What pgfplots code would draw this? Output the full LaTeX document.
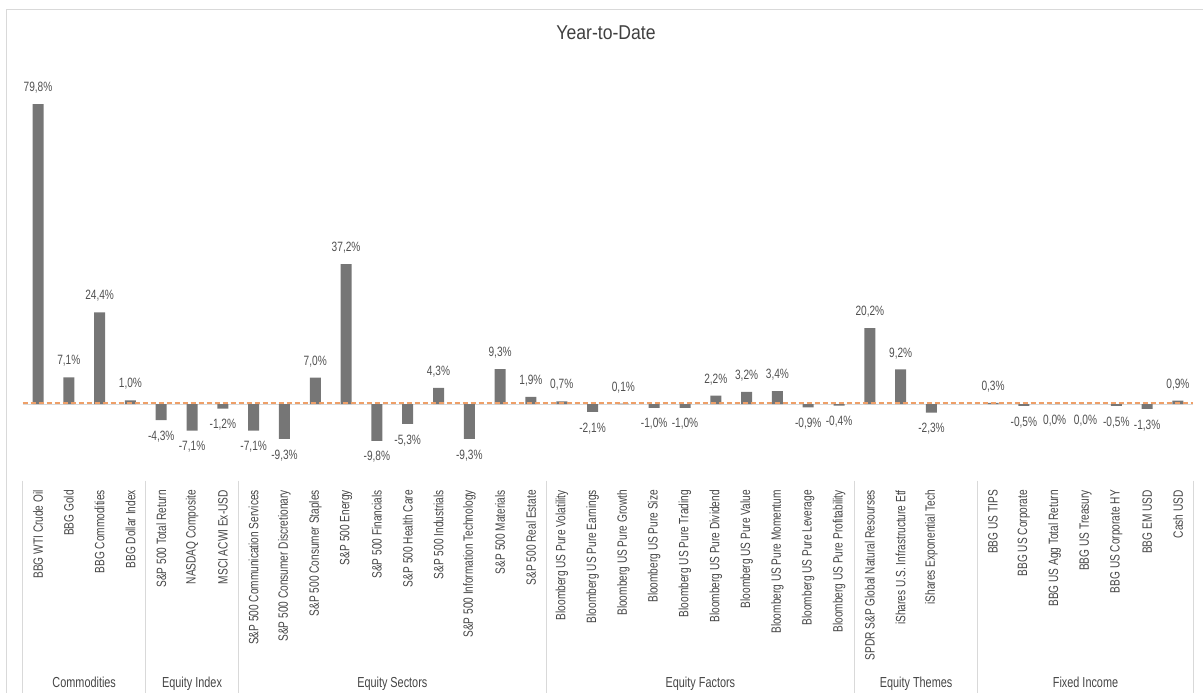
\documentclass[border=0pt]{standalone}
\usepackage{fontspec}
\setmainfont{Liberation Sans}
\newfontfamily\condfont{Liberation Sans}[FakeStretch=0.75]
\newfontfamily\titlefont{Liberation Sans}[FakeStretch=0.88]
\usepackage{pgfplots}
\usepackage{pgfplotstable}
\pgfplotsset{compat=1.18}
\definecolor{barc}{HTML}{767676}
\definecolor{labc}{HTML}{505050}
\definecolor{tickc}{HTML}{454545}
\definecolor{titlec}{HTML}{404040}
\definecolor{sepc}{HTML}{D9D9D9}
\definecolor{zeroc}{HTML}{D9D9D9}
\definecolor{dashc}{HTML}{EE9F68}
\tikzset{grp/.style={font=\condfont\fontsize{14.5}{15}\selectfont, text=tickc, anchor=base, yshift=-206.5pt}}

% positive values
\pgfplotstableread{
x y lab
0 79.8 79,8
1 7.1 7,1
2 24.4 24,4
3 1.0 1,0
9 7.0 7,0
10 37.2 37,2
13 4.3 4,3
15 9.3 9,3
16 1.9 1,9
17 0.7 0,7
19 0.1 0,1
22 2.2 2,2
23 3.2 3,2
24 3.4 3,4
27 20.2 20,2
28 9.2 9,2
31 0.3 0,3
37 0.9 0,9
}\ytdpos

% negative values
\pgfplotstableread{
x y lab
4 -4.3 -4,3
5 -7.1 -7,1
6 -1.2 -1,2
7 -7.1 -7,1
8 -9.3 -9,3
11 -9.8 -9,8
12 -5.3 -5,3
14 -9.3 -9,3
18 -2.1 -2,1
20 -1.0 -1,0
21 -1.0 -1,0
25 -0.9 -0,9
26 -0.4 -0,4
29 -2.3 -2,3
32 -0.5 -0,5
33 -0.04 0,0
34 -0.04 0,0
35 -0.5 -0,5
36 -1.3 -1,3
}\ytdneg

\begin{document}
\begin{tikzpicture}[x=1pt,y=1pt]
\path[use as bounding box] (0,0) rectangle (1203,693);
\draw[sepc, line width=1pt] (6,0) -- (6,683) -- (1203,683);
\node[font=\titlefont\fontsize{20}{21}\selectfont, text=titlec, anchor=base] at (606,653) {Year-to-Date};
\foreach \sx in {22.6,145.84,238.27,546.37,854.47,977.71,1193.4}{
  \draw[sepc, line width=1pt] (\sx,212.3) -- (\sx,0);
}
\begin{axis}[
  at={(22.6pt,212.3pt)}, anchor=south west,
  scale only axis, width=1170.8pt, height=384.9pt,
  xmin=-0.5, xmax=37.5, ymin=-20.4, ymax=82,
  clip=false,
  axis line style={draw=none},
  major tick length=0pt,
  ytick=\empty,
  xtick={0,...,37},
  xticklabels={
    BBG WTI Crude Oil, BBG Gold, BBG Commodities, BBG Dollar Index,
    S\&P 500 Total Return, NASDAQ Composite, MSCI ACWI Ex-USD,
    S\&P 500 Communication Services, S\&P 500 Consumer Discretionary, S\&P 500 Consumer Staples, S\&P 500 Energy, S\&P 500 Financials, S\&P 500 Health Care, S\&P 500 Industrials, S\&P 500 Information Technology, S\&P 500 Materials, S\&P 500 Real Estate,
    Bloomberg US Pure Volatility, Bloomberg US Pure Earnings, Bloomberg US Pure Growth, Bloomberg US Pure Size, Bloomberg US Pure Trading, Bloomberg US Pure Dividend, Bloomberg US Pure Value, Bloomberg US Pure Momentum, Bloomberg US Pure Leverage, Bloomberg US Pure Profitability,
    SPDR S\&P Global Natural Resourses, iShares U.S. Infrastructure Etf, iShares Exponential Tech, {},
    BBG US TIPS, BBG US Corporate, BBG US Agg Total Return, BBG US Treasury, BBG US Corporate HY, BBG EM USD, Cash USD},
  xticklabel style={yshift=-9.3pt, rotate=90, anchor=east, inner sep=0pt,
    font=\condfont\fontsize{13.5}{14}\selectfont, text=tickc},
  bars/.style={ybar, bar width=11pt, bar shift=0pt, fill=barc, draw=none,
    point meta=explicit symbolic,
    nodes near coords={\pgfplotspointmeta\%},
    every node near coord/.append style={font=\condfont\fontsize{13.5}{14}\selectfont,
      text=labc, inner xsep=0pt, inner ysep=10.5pt}},
]
\addplot[zeroc, line width=1pt, sharp plot, forget plot] coordinates {(-0.5,0) (37.5,0)};
\addplot[bars, every node near coord/.append style={anchor=south}]
  table[x=x, y=y, meta=lab] {\ytdpos};
\addplot[bars, every node near coord/.append style={anchor=north}]
  table[x=x, y=y, meta=lab] {\ytdneg};
\addplot[dashc, line width=1.8pt, dash pattern=on 5pt off 3pt, sharp plot, forget plot] coordinates {(-0.5,0.2) (37.5,0.2)};
\node[grp] at (axis cs:1.5,-20.4) {Commodities};
\node[grp] at (axis cs:5,-20.4) {Equity Index};
\node[grp] at (axis cs:11.5,-20.4) {Equity Sectors};
\node[grp] at (axis cs:21.5,-20.4) {Equity Factors};
\node[grp] at (axis cs:28.5,-20.4) {Equity Themes};
\node[grp] at (axis cs:34,-20.4) {Fixed Income};
\end{axis}
\end{tikzpicture}
\end{document}
